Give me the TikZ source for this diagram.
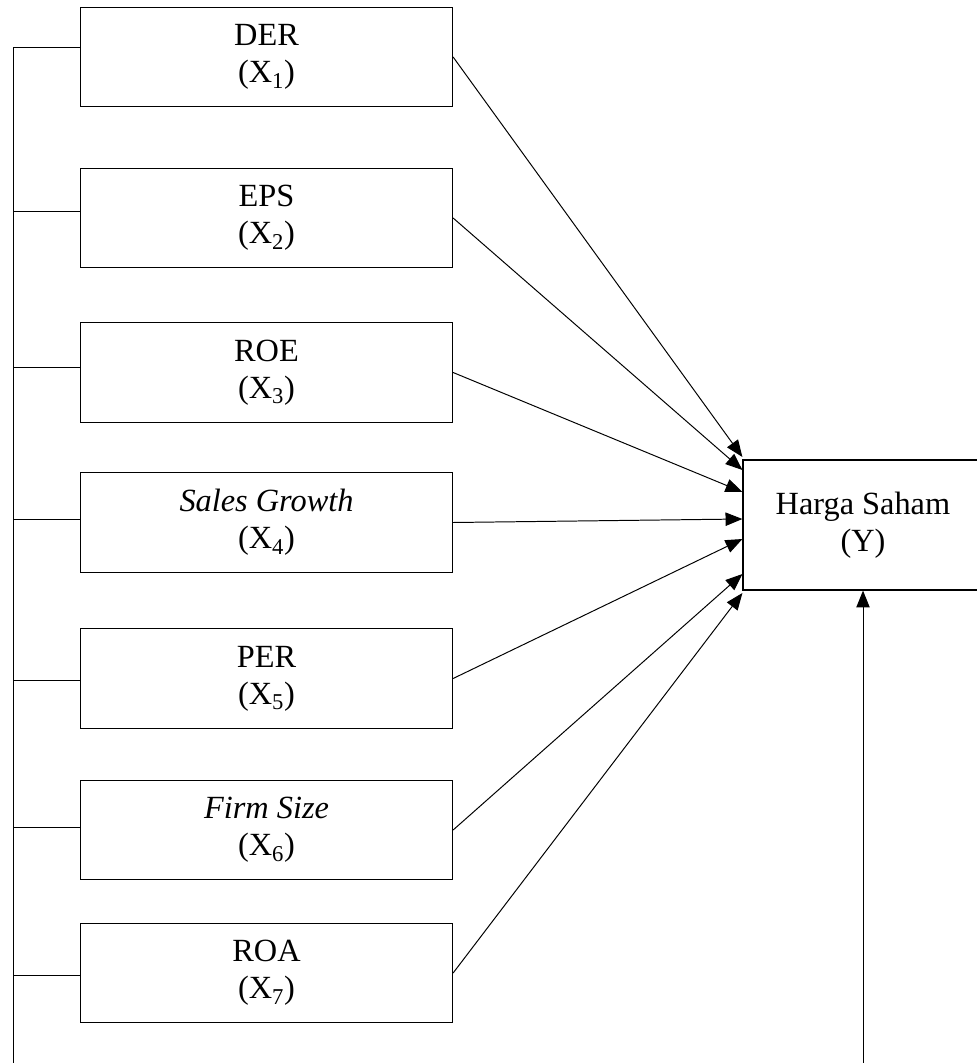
\documentclass[tikz,border=0pt]{standalone}
\usepackage{fontspec}
\setmainfont{Liberation Serif}
\usetikzlibrary{arrows.meta,calc}

\begin{document}
\begin{tikzpicture}[x=0.025cm,y=-0.025cm,
	varbox/.style={draw,line width=0.8pt,minimum width=9.3cm,minimum height=2.48cm,align=center,inner sep=0pt,font=\fontsize{23}{26.5}\selectfont},
	ybox/.style={draw,line width=0.8pt,minimum width=6cm,minimum height=3.25cm,align=center,inner sep=0pt,font=\fontsize{23}{26.5}\selectfont},
	arr/.style={-{Triangle[length=12pt,width=9.5pt]},line width=0.7pt},
	link/.style={line width=0.7pt}]
		\useasboundingbox (0,0) rectangle (977,1063);
		\clip (0,0) rectangle (977,1063);
		
		\node[varbox] (der) at (266.5,57) {DER\\(X\textsubscript{1})};
		\node[varbox] (eps) at (266.5,218) {EPS\\(X\textsubscript{2})};
		\node[varbox] (roe) at (266.5,372.5) {ROE\\(X\textsubscript{3})};
		\node[varbox] (sg) at (266.5,522.5) {\textit{Sales Growth}\\(X\textsubscript{4})};
		\node[varbox] (per) at (266.5,678.5) {PER\\(X\textsubscript{5})};
		\node[varbox] (fs) at (266.5,830) {\textit{Firm Size}\\(X\textsubscript{6})};
		\node[varbox] (roa) at (266.5,973) {ROA\\(X\textsubscript{7})};
		
		\node[ybox] (harga) at (863,525) {Harga Saham\\(Y)};
		
		% garis kiri dan bawah
		\coordinate (base) at (13,1090);
		\draw[arr] ($(der.west)+(0,-10)$) -| (base) -| (harga.south);
		\foreach \v/\dy in {eps/-7,roe/-5,sg/-3,per/2,fs/-3,roa/2}
			\draw[link] ($(\v.west)+(0,\dy)$) -- ($(base |- \v.west)+(0,\dy)$);
		
		% panah ke Y
		\foreach \v/\dy in {der/-68,eps/-55,roe/-33,sg/-6,per/14,fs/49,roa/68}
			\draw[arr] (\v.east) -- ($(harga.west)+(0,\dy)$);
		
\end{tikzpicture}
\end{document}
